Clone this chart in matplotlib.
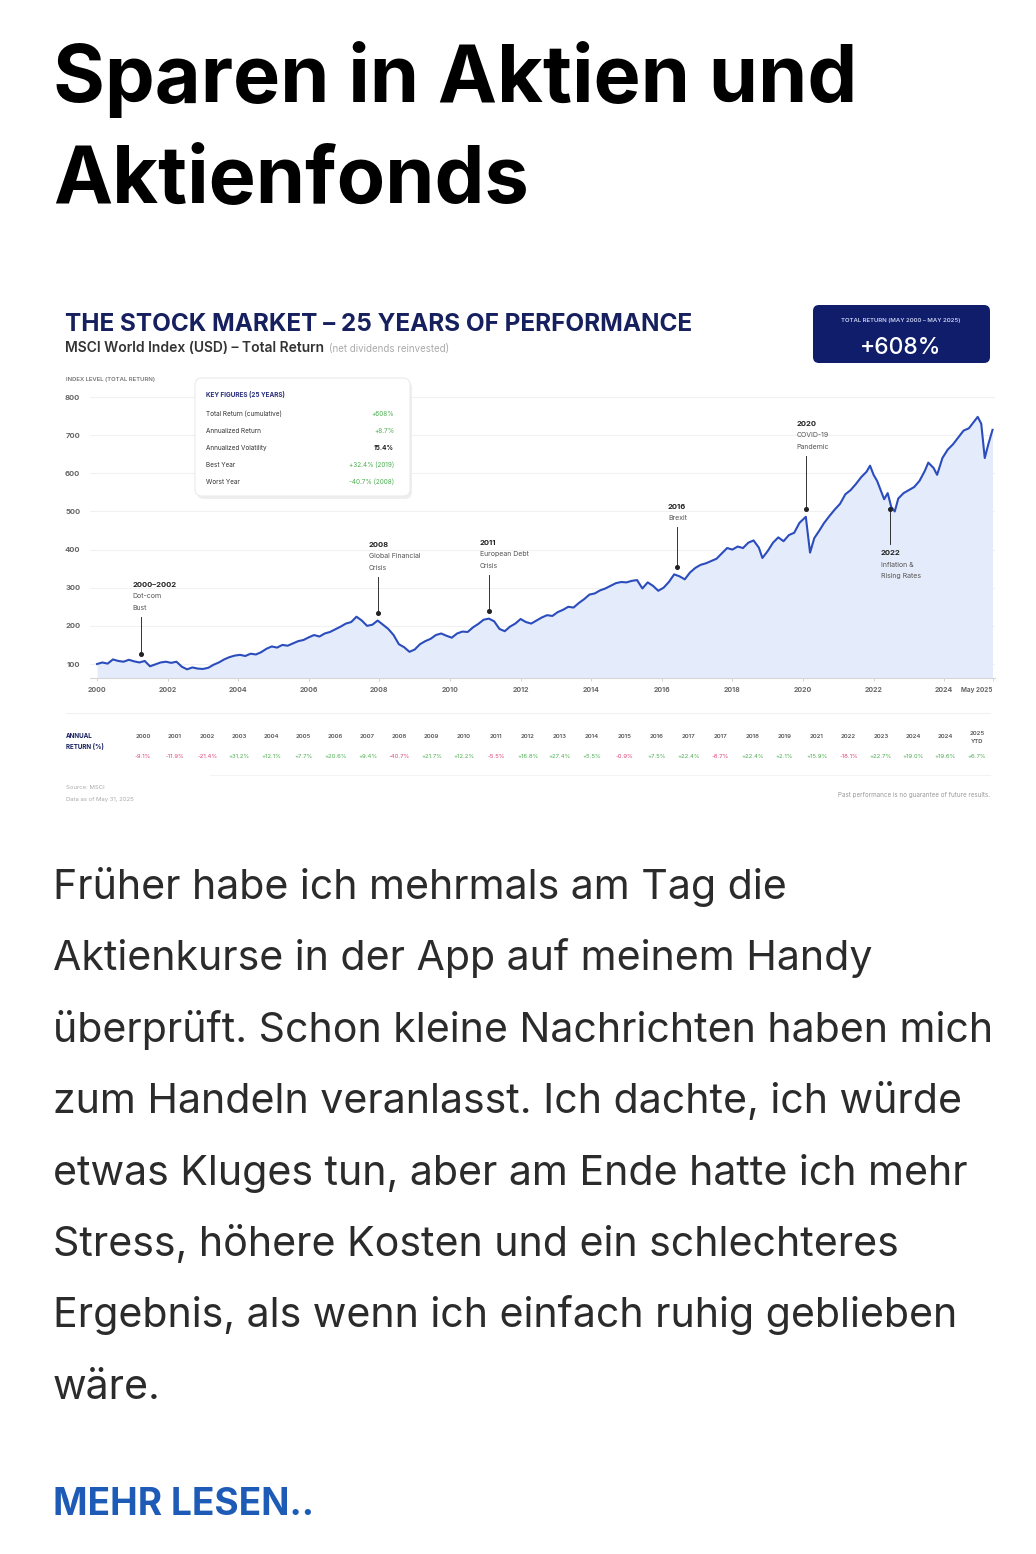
import matplotlib.pyplot as plt
import numpy as np
from matplotlib.patches import FancyBboxPatch

W, H = 1036, 1554

# MSCI World total return index (start = 100)
dates = [
    2000.00, 2000.15, 2000.30, 2000.45, 2000.60, 2000.75, 2000.90, 2001.05, 2001.20, 2001.35,
    2001.50, 2001.65, 2001.80, 2001.95, 2002.10, 2002.25, 2002.40, 2002.55, 2002.70, 2002.85,
    2003.00, 2003.15, 2003.30, 2003.45, 2003.60, 2003.75, 2003.90, 2004.05, 2004.20, 2004.35,
    2004.50, 2004.65, 2004.80, 2004.95, 2005.10, 2005.25, 2005.40, 2005.55, 2005.70, 2005.85,
    2006.00, 2006.15, 2006.30, 2006.45, 2006.60, 2006.75, 2006.90, 2007.05, 2007.20, 2007.35,
    2007.50, 2007.65, 2007.80, 2007.95, 2008.10, 2008.25, 2008.40, 2008.55, 2008.70, 2008.85,
    2009.00, 2009.15, 2009.30, 2009.45, 2009.60, 2009.75, 2009.90, 2010.05, 2010.20, 2010.35,
    2010.50, 2010.65, 2010.80, 2010.95, 2011.10, 2011.25, 2011.40, 2011.55, 2011.70, 2011.85,
    2012.00, 2012.15, 2012.30, 2012.45, 2012.60, 2012.75, 2012.90, 2013.05, 2013.20, 2013.35,
    2013.50, 2013.65, 2013.80, 2013.95, 2014.10, 2014.25, 2014.40, 2014.55, 2014.70, 2014.85,
    2015.00, 2015.15, 2015.30, 2015.45, 2015.60, 2015.75, 2015.90, 2016.05, 2016.20, 2016.35,
    2016.50, 2016.65, 2016.80, 2016.95, 2017.10, 2017.25, 2017.40, 2017.55, 2017.70, 2017.85,
    2018.00, 2018.15, 2018.30, 2018.45, 2018.60, 2018.75, 2018.85, 2019.00, 2019.15, 2019.30,
    2019.45, 2019.60, 2019.75, 2019.90, 2020.08, 2020.20, 2020.32, 2020.45, 2020.60, 2020.75,
    2020.90, 2021.05, 2021.20, 2021.35, 2021.50, 2021.65, 2021.80, 2021.90, 2022.00, 2022.10,
    2022.20, 2022.30, 2022.40, 2022.50, 2022.60, 2022.70, 2022.85, 2023.00, 2023.15, 2023.30,
    2023.45, 2023.55, 2023.70, 2023.80, 2023.95, 2024.10, 2024.25, 2024.40, 2024.55, 2024.70,
    2024.85, 2024.95, 2025.05, 2025.15, 2025.25, 2025.37,
]
index_level = [
    100, 104, 101, 112, 108, 106, 111, 107, 104, 108,
    94, 99, 104, 106, 103, 106, 93, 86, 91, 88,
    87, 90, 98, 104, 112, 118, 122, 124, 121, 127,
    125, 131, 140, 146, 143, 150, 148, 154, 160, 163,
    170, 176, 172, 180, 184, 191, 198, 206, 210, 224,
    214, 200, 203, 214, 203, 192, 176, 152, 144, 132,
    138, 152, 160, 166, 176, 180, 174, 169, 180, 185,
    184, 196, 205, 216, 219, 212, 192, 186, 198, 206,
    218, 210, 206, 214, 222, 228, 226, 236, 242, 250,
    248, 260, 270, 282, 285, 293, 298, 305, 312, 315,
    314, 318, 320, 298, 314, 305, 292, 300, 315, 335,
    330, 322, 340, 352, 360, 364, 370, 376, 390, 404,
    400, 408, 404, 418, 424, 405, 378, 396, 418, 432,
    422, 438, 444, 470, 486, 392, 430, 448, 470, 488,
    505, 520, 545, 556, 572, 590, 604, 620, 596, 580,
    556, 532, 548, 512, 500, 534, 548, 556, 564, 580,
    606, 628, 614, 596, 640, 662, 676, 694, 712, 718,
    736, 748, 730, 640, 676, 714,
]

events = [
    (2001.25, "2000–2002", ["Dot-com", "Bust"], "up", 37),
    (2007.96, "2008", ["Global Financial", "Crisis"], "up", 36),
    (2011.10, "2011", ["European Debt", "Crisis"], "up", 36),
    (2016.43, "2016", ["Brexit"], "up", 40),
    (2020.08, "2020", ["COVID-19", "Pandemic"], "up", 53),
    (2022.46, "2022", ["Inflation &", "Rising Rates"], "down", 35),
]

return_years = ["2000", "2001", "2002", "2003", "2004", "2005", "2006", "2007", "2008",
                "2009", "2010", "2011", "2012", "2013", "2014", "2015", "2016", "2017",
                "2017", "2018", "2019", "2021", "2022", "2023", "2024", "2024", "2025\nYTD"]
annual_returns = [-9.1, -11.9, -21.4, 31.2, 12.1, 7.7, 20.6, 9.4, -40.7, 21.7, 12.2, -5.5,
                  16.8, 27.4, 5.5, -0.9, 7.5, 22.4, -8.7, 22.4, 2.1, 15.9, -18.1, 22.7,
                  19.0, 19.6, 6.7]

key_labels = ["Total Return (cumulative)", "Annualized Return", "Annualized Volatility",
              "Best Year", "Worst Year"]
key_values = ["+608%", "+8.7%", "15.4%", "+32.4% (2019)", "-40.7% (2008)"]
total_return = 608

body = [
    "Früher habe ich mehrmals am Tag die",
    "Aktienkurse in der App auf meinem Handy",
    "überprüft. Schon kleine Nachrichten haben mich",
    "zum Handeln veranlasst. Ich dachte, ich würde",
    "etwas Kluges tun, aber am Ende hatte ich mehr",
    "Stress, höhere Kosten und ein schlechteres",
    "Ergebnis, als wenn ich einfach ruhig geblieben",
    "wäre.",
]

NAVY = "#16205e"
GREEN = "#4caf50"
RED = "#e0457b"
FONT = "Inter"


def fx(x):
    return x / W


def fy(y):
    return 1 - y / H


fig = plt.figure(figsize=(W / 100, H / 100), dpi=100)
fig.patch.set_facecolor("white")


def txt(x, y, s, size, color="#222222", weight="normal", ha="left", va="baseline"):
    return fig.text(fx(x), fy(y), s, fontsize=size, color=color, fontweight=weight,
                    ha=ha, va=va, family=FONT)


def rbox(x0, y0, x1, y1, face, edge="none", r=6, z=1):
    p = FancyBboxPatch((fx(x0), fy(y1)), fx(x1) - fx(x0), fy(y0) - fy(y1),
                       boxstyle=f"round,pad=0,rounding_size={r / W}",
                       mutation_aspect=W / H, transform=fig.transFigure,
                       facecolor=face, edgecolor=edge, lw=0.8, zorder=z)
    fig.patches.append(p)


# heading
txt(53, 102, "Sparen in Aktien und", 57, "#000000", "bold")
txt(53, 203, "Aktienfonds", 57, "#000000", "bold")

# chart header
txt(65, 331, "THE STOCK MARKET – 25 YEARS OF PERFORMANCE", 17.5, NAVY, "bold")
txt(65, 352, "MSCI World Index (USD) – Total Return", 10, "#333333", "semibold")
txt(329, 352, "(net dividends reinvested)", 7, "#aaaaaa")
txt(66, 381, "INDEX LEVEL (TOTAL RETURN)", 4.3, "#777777", "semibold")

rbox(813, 305, 990, 363, "#0f1d6b")
txt(901, 322, "TOTAL RETURN (MAY 2000 – MAY 2025)", 4.3, "#c9d1f2", "semibold", ha="center")
txt(901, 354, f"+{total_return}%", 16.5, "white", "medium", ha="center")

# main chart axes
y0, y1 = 63.3, 818.4
ax = fig.add_axes([fx(90), fy(678), fx(995) - fx(90), fy(390) - fy(678)])
ax.set_xlim(1999.80, 2025.44)
ax.set_ylim(y0, y1)
ax.fill_between(dates, index_level, y0, color="#e4ebfa", lw=0, zorder=1)
ax.plot(dates, index_level, color="#2b4cbc", lw=1.5, zorder=3)

ax.set_yticks(range(100, 900, 100))
ax.set_yticklabels([str(v) for v in range(100, 900, 100)], fontsize=5.5,
                   color="#666666", fontweight="bold", family=FONT)
ax.tick_params(axis="y", length=0, pad=7)
xt = list(range(2000, 2025, 2)) + [dates[-1]]
ax.set_xticks(xt)
ax.set_xticklabels([str(v) for v in range(2000, 2025, 2)] + ["May 2025"], fontsize=5,
                   color="#666666", fontweight="bold", family=FONT)
last = ax.get_xticklabels()[-1]
last.set_horizontalalignment("right")
last.set_fontsize(4.6)
ax.tick_params(axis="x", length=2.5, width=0.6, color="#cccccc", pad=4)
ax.grid(axis="y", color="#f1f1f1", lw=0.8, zorder=0)
ax.set_axisbelow(True)
for s in ["top", "right", "left"]:
    ax.spines[s].set_visible(False)
ax.spines["bottom"].set_color("#d6d6d6")
ax.spines["bottom"].set_linewidth(0.8)

ppu = (678 - 390) / (y1 - y0)
for yr, head, desc, side, length in events:
    v = np.interp(yr, dates, index_level)
    sign = 1 if side == "up" else -1
    dot_v = v + sign * 8 / ppu
    end_v = dot_v + sign * length / ppu
    ax.plot([yr, yr], [dot_v, end_v], color="#333333", lw=0.7, zorder=4)
    ax.plot([yr], [dot_v], "o", color="#222222", ms=2.6, zorder=5)
    lines = [(head, "bold", 5.5, "#222222")] + [(d, "normal", 5, "#555555") for d in desc]
    if side == "up":
        offs = [7 + 11.5 * (len(lines) - 1 - i) for i in range(len(lines))]
    else:
        offs = [-11 - 11.5 * i for i in range(len(lines))]
    for (s, w, fs, c), dy in zip(lines, offs):
        ax.annotate(s, xy=(yr, end_v), xytext=(-9, dy), textcoords="offset pixels",
                    fontsize=fs, fontweight=w, color=c, family=FONT,
                    ha="left", va="baseline", zorder=6)

# key figures box
rbox(197, 381, 412, 499, "#eeeeee", r=7, z=4)
rbox(195, 378, 410, 496, "white", edge="#ebebeb", r=7, z=5)
fig.text(fx(206), fy(397), "KEY FIGURES (25 YEARS)", fontsize=4.6, color="#2a2f7a",
         fontweight="bold", family=FONT, zorder=6)
for i, (lab, val) in enumerate(zip(key_labels, key_values)):
    yy = 416 + 17 * i
    col = "#222222" if lab == "Annualized Volatility" else GREEN
    fig.text(fx(206), fy(yy), lab, fontsize=4.6, color="#333333", family=FONT, zorder=6)
    fig.text(fx(394), fy(yy), val, fontsize=4.6, color=col, family=FONT, ha="right",
             fontweight="bold" if col == "#222222" else "normal", zorder=6)

# annual return table
fig.add_artist(plt.Line2D([fx(66), fx(990)], [fy(713), fy(713)], color="#f0f0f0", lw=0.8))
fig.add_artist(plt.Line2D([fx(210), fx(990)], [fy(775), fy(775)], color="#f3f3f3", lw=0.8))
txt(66, 738, "ANNUAL", 4.5, NAVY, "bold")
txt(66, 749, "RETURN (%)", 4.5, NAVY, "bold")
cols = np.linspace(143, 977, len(return_years))
for cx, yr_lab, r in zip(cols, return_years, annual_returns):
    if "\n" in yr_lab:
        a, b = yr_lab.split("\n")
        txt(cx, 735, a, 4.3, "#555555", "semibold", ha="center")
        txt(cx, 743, b, 4.3, "#555555", "semibold", ha="center")
    else:
        txt(cx, 738, yr_lab, 4.3, "#555555", "semibold", ha="center")
    txt(cx, 758, f"{r:+.1f}%", 4.3, RED if r < 0 else GREEN, ha="center")

txt(66, 789, "Source: MSCI", 4.3, "#aaaaaa")
txt(66, 801, "Data as of May 31, 2025", 4.3, "#aaaaaa")
txt(990, 797, "Past performance is no guarantee of future results.", 4.5, "#999999", ha="right")

# body text
for i, line in enumerate(body):
    txt(53, 899 + 71.4 * i, line, 29.6, "#2b2b2b")

txt(53, 1515, "MEHR LESEN..", 26.7, "#1d5bb6", "bold")

fig.savefig("out.png", dpi=100)
